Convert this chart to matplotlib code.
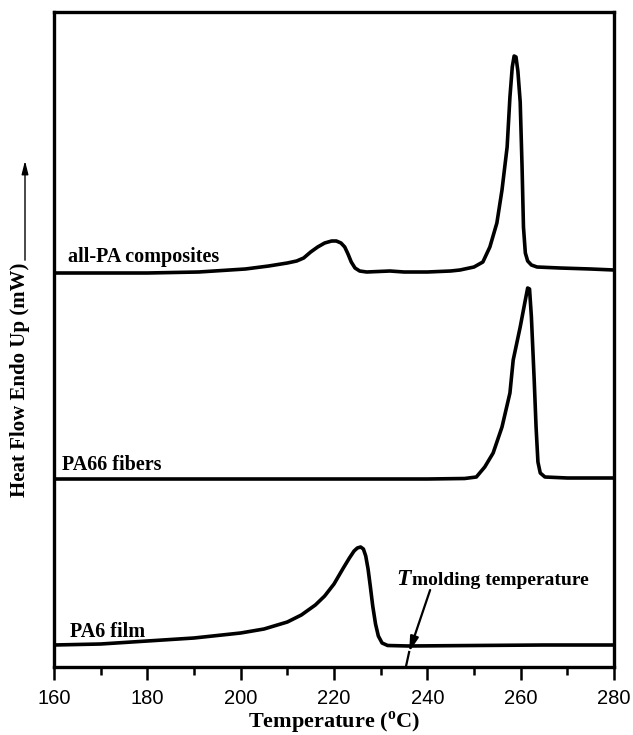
import numpy as np
import matplotlib
matplotlib.use("Agg")
import matplotlib.pyplot as plt

# DSC curves, heat flow in arbitrary units (stacked offsets)
t_film = [160, 170, 180, 190, 200, 205, 210, 213, 216, 218, 220, 222, 223.3, 224.3,
          225.0, 225.7, 226.3, 226.8, 227.3, 227.8, 228.3, 228.9, 229.5, 230.3, 231.5,
          236, 250, 265, 280]
hf_film = [22, 23, 26, 29, 34, 38, 45, 52, 62, 71, 83, 99, 109, 116,
           119, 120, 118, 111, 98, 80, 61, 43, 31, 24, 21.5,
           21, 21.5, 22, 22]

t_fiber = [160, 200, 240, 248, 250.5, 252.3, 254.1, 256.0, 257.7, 258.4, 259.9, 261.0,
           261.5, 261.9, 262.3, 262.9, 263.3, 263.7, 264.2, 265.2, 270, 280]
hf_fiber = [188, 188, 188, 188.5, 190, 200, 214, 240, 274, 307, 340, 367,
            379, 378, 350, 287, 240, 205, 194, 190, 189, 189]

t_comp = [160, 180, 191, 201, 206, 210, 212, 213.5, 215, 216.5, 218, 219.5, 220.5,
          221.5, 222.3, 223, 223.7, 224.5, 225.5, 227, 232, 235, 240, 245, 247, 250,
          251.9, 253.4, 254.9, 256.0, 257.1, 257.7, 258.2, 258.6, 259.0, 259.4, 259.9,
          260.3, 260.6, 261.0, 261.5, 262.3, 263.5, 268.4, 275, 280]
hf_comp = [394, 394, 395, 398, 401, 404, 406, 409, 415, 420, 424, 426, 426,
           424, 420, 413, 405, 399, 396, 395, 396, 395, 395, 396, 397, 400,
           405, 420, 444, 477, 520, 570, 600, 611, 610, 596, 565,
           500, 440, 414, 406, 402, 400, 399, 398, 397]

curve_labels = ["all-PA composites", "PA66 fibers", "PA6 film"]
label_pos = [(163.0, 405), (161.7, 197), (163.4, 30)]

x_ticks = [160, 180, 200, 220, 240, 260, 280]

plt.rcParams["font.family"] = ["Liberation Serif", "DejaVu Serif"]

fig = plt.figure(figsize=(6.33, 7.35), dpi=100)
ax = fig.add_axes([54 / 633, 68 / 735, 560 / 633, 655 / 735])

for t, hf in [(t_comp, hf_comp), (t_fiber, hf_fiber), (t_film, hf_film)]:
    ax.plot(t, hf, color="black", lw=2.6, solid_joinstyle="round", solid_capstyle="round")

for lab, (x, y) in zip(curve_labels, label_pos):
    ax.text(x, y, lab, fontsize=14.5, fontweight="bold", va="baseline", ha="left")

# molding temperature annotation
ax.text(233.3, 82, "T", fontsize=17, fontweight="bold", fontstyle="italic", va="baseline")
ax.text(236.8, 82, "molding temperature", fontsize=14, fontweight="bold", va="baseline")
ax.annotate("", xy=(236.1, 15), xytext=(240.6, 77),
            arrowprops=dict(arrowstyle="-|>,head_length=0.9,head_width=0.25",
                            color="black", lw=1.6, shrinkA=0, shrinkB=0))
ax.plot([236.1, 235.4], [15, 0], color="black", lw=1.6)

ax.set_xlim(160, 280)
ax.set_ylim(0, 655)
ax.set_xticks(x_ticks)
ax.set_xticks(np.arange(170, 280, 20), minor=True)
ax.set_yticks([])
for lbl in ax.get_xticklabels():
    lbl.set_fontfamily(["Liberation Sans", "DejaVu Sans"])
ax.tick_params(axis="x", which="major", direction="out", length=9, width=1.8,
               labelsize=14.5, pad=7)
ax.tick_params(axis="x", which="minor", direction="out", length=6, width=1.8)
for sp in ax.spines.values():
    sp.set_linewidth(2.4)

ax.set_xlabel(r"Temperature ($^{\mathregular{o}}$C)", fontsize=16, fontweight="bold", labelpad=1)

# y label with arrow
fig.text(20 / 633, 1 - 380 / 735, "Heat Flow Endo Up (mW)", rotation=90,
         fontsize=15, fontweight="bold", ha="center", va="center")
fig.add_artist(matplotlib.patches.FancyArrowPatch(
    (25 / 633, 1 - 263 / 735), (25 / 633, 1 - 158 / 735), transform=fig.transFigure,
    arrowstyle="-|>,head_length=0.8,head_width=0.2", color="black", lw=1.0,
    mutation_scale=10))

fig.savefig("out.png", dpi=100)
